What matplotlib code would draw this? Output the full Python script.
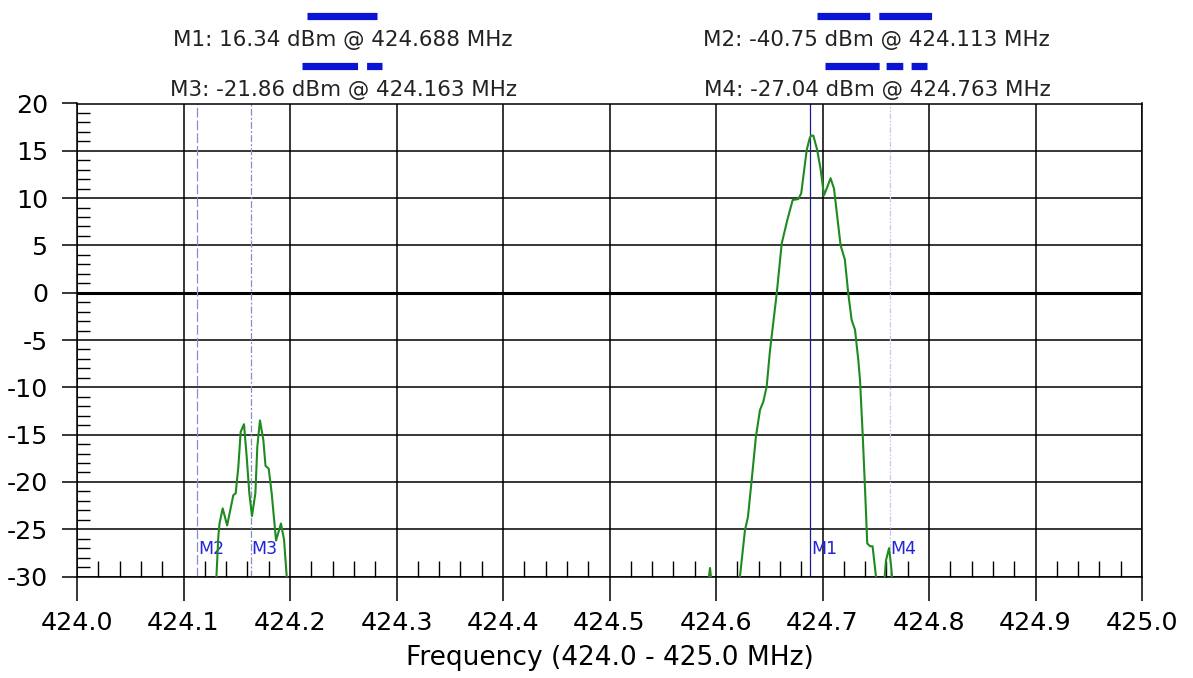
#!/usr/bin/env python
"""
Plot a spectrum analyser trace around 424.7 MHz with four markers.
"""

import matplotlib
matplotlib.use('Agg')
import matplotlib.pyplot as plt
from matplotlib.lines import Line2D
from matplotlib.ticker import MultipleLocator

# trace (MHz, dBm)
freq = [424.000, 424.060, 424.113, 424.128, 424.1305,
        424.1327, 424.1338, 424.1368, 424.1410, 424.1446, 424.1468,
        424.1490, 424.1515, 424.1537, 424.1568, 424.1593, 424.1618,
        424.1643, 424.1675, 424.1693, 424.1718, 424.1750, 424.1770,
        424.1800, 424.1828, 424.1869, 424.1915, 424.1944, 424.1969,
        424.1985, 424.260, 424.350, 424.450, 424.550, 424.590,
        424.5944, 424.5980, 424.618, 424.6225,
        424.6272, 424.6300, 424.6335, 424.6375, 424.6413, 424.6445,
        424.6476, 424.6507, 424.6570, 424.6617, 424.6670, 424.6720,
        424.6773, 424.6800, 424.6852, 424.6880, 424.6892, 424.6914,
        424.6950, 424.6983, 424.7014, 424.7039, 424.7076, 424.7108,
        424.7139, 424.7170, 424.7210, 424.7242, 424.7274, 424.7305,
        424.7336, 424.7352, 424.7377, 424.7400, 424.7420, 424.7446,
        424.7470, 424.7500, 424.7530, 424.7570, 424.7596, 424.7625,
        424.7645, 424.7660, 424.7700, 424.800, 424.900, 425.000]
power = [-41.0, -40.0, -40.75, -35.0, -31.0,
         -25.8, -24.4, -22.8, -24.6, -22.6, -21.4,
         -21.2, -18.4, -14.7, -13.9, -17.3, -21.2,
         -23.6, -21.2, -16.3, -13.5, -15.6, -18.3,
         -18.6, -21.2, -26.2, -24.4, -26.1, -30.0,
         -32.0, -39.0, -41.0, -40.0, -39.0, -33.0,
         -29.1, -33.0, -34.0, -30.0,
         -25.1, -23.7, -19.8, -15.2, -12.4, -11.5,
         -9.9, -6.1, -0.1, 5.2, 7.7, 9.8,
         9.9, 10.5, 15.1, 16.34, 16.6, 16.6,
         15.1, 13.0, 10.3, 11.0, 12.1, 11.0,
         8.0, 5.0, 3.5, -0.1, -2.9, -3.9,
         -7.1, -9.2, -14.9, -20.9, -26.5, -26.8,
         -26.8, -29.8, -33.0, -32.0, -28.3, -27.0,
         -29.0, -31.0, -35.0, -39.0, -41.0, -40.0]

# markers (name, frequency in MHz, level in dBm)
marker_names = ['M1', 'M2', 'M3', 'M4']
marker_freqs = [424.688, 424.113, 424.163, 424.763]
marker_levels = [16.34, -40.75, -21.86, -27.04]

# axis ticks
xticks = [424.0, 424.1, 424.2, 424.3, 424.4, 424.5,
          424.6, 424.7, 424.8, 424.9, 425.0]
yticks = [-30, -25, -20, -15, -10, -5, 0, 5, 10, 15, 20]

# line style of each marker: (colour on plot, dashes on plot, legend dashes)
styles = {
    'M1': ('#1c1c8a', None, None),
    'M2': ('#8c8cc8', (7, 2.2), (38, 6.5)),
    'M3': ('#8c8cc8', (5, 1.5, 1.5, 1.5), (40, 6.5, 11.5, 6.5)),
    'M4': ('#c8c8ee', (4, 1.2, 1.2, 1.2, 1.2, 1.2), (39, 5, 12, 6, 12, 5)),
}

# legend layout in pixels: (column centre, sample row, sample length)
legend_pos = {
    'M1': (342, 15.5, 70),
    'M2': (875, 15.5, 116),
    'M3': (342, 65.5, 80),
    'M4': (876, 65.5, 102),
}

W, H = 1193, 678


def px(x, y):
    """Convert pixel position to figure fraction."""
    return x / W, 1 - y / H


def main():
    """Draw the figure."""

    plt.rcParams['font.family'] = ['DejaVu Sans']
    plt.rcParams['lines.scale_dashes'] = False

    # init figure
    fig = plt.figure(figsize=(W / 100, H / 100), dpi=100)
    x0, y0 = px(77, 576.5)
    x1, y1 = px(1142, 103.5)
    ax = fig.add_axes([x0, y0, x1 - x0, y1 - y0])

    # grid and ticks
    ax.set_xlim(424.0, 425.0)
    ax.set_ylim(-30, 20)
    ax.set_xticks(xticks)
    ax.set_yticks(yticks)
    ax.set_xticklabels(['%.1f' % t for t in xticks])
    ax.set_yticklabels(['%d' % t for t in yticks])
    ax.xaxis.set_minor_locator(MultipleLocator(0.02))
    ax.yaxis.set_minor_locator(MultipleLocator(1))
    ax.grid(which='major', color='k', lw=1.1)
    ax.set_axisbelow(True)
    ax.tick_params(axis='x', which='major', direction='out', length=17,
                   width=1.1, pad=8, labelsize=18.3)
    ax.tick_params(axis='y', which='major', direction='out', length=10.8,
                   width=1.1, pad=10, labelsize=18.3)
    ax.tick_params(axis='x', which='minor', direction='in', length=11.5,
                   width=1.0)
    ax.tick_params(axis='y', which='minor', direction='in', length=9.5,
                   width=1.0)
    for spine in ax.spines.values():
        spine.set_linewidth(1.1)
    ax.axhline(0, color='k', lw=2.2, zorder=1.5)

    # marker lines and labels
    for name, f in zip(marker_names, marker_freqs):
        color, dashes, _ = styles[name]
        line, = ax.plot([f, f], [-30, 20], color=color, lw=0.9, zorder=2)
        if dashes:
            line.set_dashes(dashes)
        ax.annotate(name, (f, -27.1), xytext=(0.8, 0),
                    textcoords='offset points', ha='left', va='center',
                    color='#2424d8', fontsize=12.5, zorder=3)

    # trace
    ax.plot(freq, power, color='#1f8a1f', lw=1.5, zorder=4)

    # marker readouts above the plot
    for name, f, level in zip(marker_names, marker_freqs, marker_levels):
        _, _, dashes = styles[name]
        xc, ys, length = legend_pos[name]
        xa, ya = px(xc - length / 2, ys)
        xb, _ = px(xc + length / 2, ys)
        sample = Line2D([xa, xb], [ya, ya], transform=fig.transFigure,
                        color='#0a14d2', lw=5.2, solid_capstyle='butt',
                        dash_capstyle='butt')
        if dashes:
            sample.set_dashes(dashes)
        fig.add_artist(sample)
        fig.text(*px(xc + 1, ys + 24.5), '%s: %.2f dBm @ %.3f MHz'
                 % (name, level, f), ha='center', va='center',
                 fontsize=15.4, color='#222222')

    # axis label
    ax.set_xlabel('Frequency (424.0 - 425.0 MHz)', fontsize=19, labelpad=7)

    # save
    fig.savefig('out.png', dpi=100)


if __name__ == '__main__':
    main()
